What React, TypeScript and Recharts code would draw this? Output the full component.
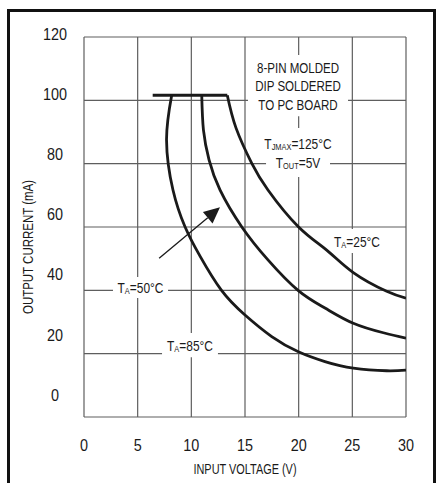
import React from "react";
import {
  LineChart,
  Line,
  XAxis,
  YAxis,
  CartesianGrid,
  ReferenceArea,
  ReferenceLine,
} from "recharts";

// ---------- data ----------
const X_TICKS = [0, 5, 10, 15, 20, 25, 30];
const Y_TICKS = [0, 20, 40, 60, 80, 100, 120];

// 100mA current-limit plateau
const limitV = [6.4, 13.35];
const limitI = [101.6, 101.6];

// T_A = 85°C
const ta85V = [8.17, 7.69, 8.29, 9.41, 10.81, 12.83, 15.0, 17.49, 19.97, 22.45, 25.09, 28.2, 30];
const ta85I = [101.6, 87.5, 71.7, 60.1, 50.8, 39.9, 32.2, 25.4, 20.6, 17.5, 15.4, 14.6, 14.8];

// T_A = 50°C
const ta50V = [10.97, 11.13, 11.65, 12.67, 14.69, 17.14, 19.97, 22.45, 25.09, 27.89, 30];
const ta50I = [101.6, 90.6, 81.2, 71.7, 60.1, 49.6, 39.9, 34.4, 29.6, 26.6, 24.9];

// T_A = 25°C
const ta25V = [13.35, 14.16, 15.62, 17.14, 19.97, 22.61, 25.09, 28.2, 30];
const ta25I = [101.6, 91.3, 80.2, 71.7, 60.1, 52.7, 45.6, 39.7, 37.5];

// annotation arrow (from the T_A=50°C label toward the curves)
const arrowV = [7.0, 12.67];
const arrowI = [50.1, 66.2];

const zip = (v: number[], i: number[]) => v.map((x, k) => ({ v: x, i: i[k] }));
const limitData = zip(limitV, limitI);
const ta85Data = zip(ta85V, ta85I);
const ta50Data = zip(ta50V, ta50I);
const ta25Data = zip(ta25V, ta25I);

// ---------- styles ----------
const SANS = "'Liberation Sans', Arial, sans-serif";
const INK = "#1a1a1a";
const GRID = "#5e5e5e";
const CONDENSE = 0.77;

const condenseAt = (cx: number, s: number = CONDENSE) => `translate(${cx} 0) scale(${s} 1) translate(${-cx} 0)`;

type Seg = { t: string; sub?: boolean };

const AnnText = (props: any) => {
  const { viewBox, lines, size = 15, lineHeight = 18.5 } = props;
  if (!viewBox) return null;
  const cx = viewBox.x + viewBox.width / 2;
  const cy = viewBox.y + viewBox.height / 2;
  const n = lines.length;
  return (
    <g transform={condenseAt(cx)}>
      {lines.map((segs: Seg[], k: number) => (
        <text
          key={k}
          x={cx}
          y={cy + (k - (n - 1) / 2) * lineHeight}
          textAnchor="middle"
          dominantBaseline="central"
          fontFamily={SANS}
          fontSize={size}
          fill={INK}
        >
          {segs.map((s, j) => {
            const prevSub = j > 0 && segs[j - 1].sub;
            if (s.sub) {
              return (
                <tspan key={j} fontSize={size * 0.62} dy={3.5}>
                  {s.t}
                </tspan>
              );
            }
            return (
              <tspan key={j} fontSize={size} dy={prevSub ? -3.5 : 0}>
                {s.t}
              </tspan>
            );
          })}
        </text>
      ))}
    </g>
  );
};

const Arrow = (props: any) => {
  const { x1, y1, x2, y2 } = props;
  const dx = x2 - x1;
  const dy = y2 - y1;
  const len = Math.hypot(dx, dy) || 1;
  const ux = dx / len;
  const uy = dy / len;
  const hl = 16;
  const hw = 7.5;
  const bx = x2 - ux * hl;
  const by = y2 - uy * hl;
  const pts = `${x2},${y2} ${bx - uy * hw},${by + ux * hw} ${bx + uy * hw},${by - ux * hw}`;
  return (
    <g>
      <line x1={x1} y1={y1} x2={bx} y2={by} stroke={INK} strokeWidth={1.3} />
      <polygon points={pts} fill={INK} />
    </g>
  );
};

const XTick = (props: any) => {
  const { x, y, payload } = props;
  return (
    <text
      x={x}
      y={y}
      transform={condenseAt(x, 0.9)}
      textAnchor="middle"
      dominantBaseline="central"
      fontFamily={SANS}
      fontSize={16}
      fill={INK}
    >
      {payload.value}
    </text>
  );
};

// the printed y labels sit slightly above their grid lines, more so toward the bottom
const Y_LABEL_SHIFT_BOTTOM = -22;
const Y_LABEL_SHIFT_TOP = -3;
const YTick = (props: any) => {
  const { x, y, payload } = props;
  const f = payload.value / 120;
  const shift = Y_LABEL_SHIFT_BOTTOM * (1 - f) + Y_LABEL_SHIFT_TOP * f;
  return (
    <text
      x={x}
      y={y + shift}
      transform={condenseAt(x, 0.9)}
      textAnchor="middle"
      dominantBaseline="central"
      fontFamily={SANS}
      fontSize={16}
      fill={INK}
    >
      {payload.value}
    </text>
  );
};

const XTitle = (props: any) => {
  const { viewBox } = props;
  if (!viewBox) return null;
  const cx = viewBox.x + viewBox.width / 2;
  return (
    <text
      x={cx}
      y={viewBox.y + 53}
      transform={condenseAt(cx, 0.78)}
      textAnchor="middle"
      dominantBaseline="central"
      fontFamily={SANS}
      fontSize={14}
      fill={INK}
    >
      INPUT VOLTAGE (V)
    </text>
  );
};

const YTitle = (props: any) => {
  const { viewBox } = props;
  if (!viewBox) return null;
  const x = viewBox.x + 28;
  const y = viewBox.y + viewBox.height / 2 + 20;
  return (
    <text
      x={x}
      y={y}
      transform={`rotate(-90 ${x} ${y}) translate(${x} ${y}) scale(0.82 1) translate(${-x} ${-y})`}
      textAnchor="middle"
      dominantBaseline="central"
      fontFamily={SANS}
      fontSize={14}
      fill={INK}
    >
      OUTPUT CURRENT (mA)
    </text>
  );
};

const boxProps = { fill: "#ffffff", fillOpacity: 1, stroke: "none", ifOverflow: "visible" as const };

export default function App() {
  return (
    <div style={{ position: "absolute", left: 0, top: 0, width: 440, height: 483, overflow: "hidden", background: "#fff" }}>
      <LineChart
        width={440}
        height={483}
        margin={{ top: 37, right: 34, bottom: 0, left: 0 }}
        style={{ position: "absolute", left: 0, top: 0 }}
      >
        <CartesianGrid stroke={GRID} strokeWidth={1.2} />
        <XAxis
          type="number"
          dataKey="v"
          domain={[0, 30]}
          ticks={X_TICKS}
          allowDataOverflow
          axisLine={false}
          tickLine={false}
          tickSize={0}
          tickMargin={28}
          height={66}
          tick={<XTick />}
          label={<XTitle />}
        />
        <YAxis
          type="number"
          domain={[0, 120]}
          ticks={Y_TICKS}
          allowDataOverflow
          axisLine={false}
          tickLine={false}
          tickSize={0}
          tickMargin={29}
          width={84}
          tick={<YTick />}
          label={<YTitle />}
        />

        <ReferenceArea
          {...boxProps}
          x1={15.28}
          x2={24.6}
          y1={95.0}
          y2={114.3}
          label={
            <AnnText
              lines={[[{ t: "8-PIN MOLDED" }], [{ t: "DIP SOLDERED" }], [{ t: "TO PC BOARD" }]]}
            />
          }
        />
        <ReferenceArea
          {...boxProps}
          x1={16.96}
          x2={22.92}
          y1={75.8}
          y2={91.3}
          label={
            <AnnText
              lineHeight={19}
              size={15.5}
              lines={[
                [{ t: "T" }, { t: "JMAX", sub: true }, { t: "=125°C" }],
                [{ t: "T" }, { t: "OUT", sub: true }, { t: "=5V" }],
              ]}
            />
          }
        />
        <ReferenceArea
          {...boxProps}
          x1={23.2}
          x2={27.67}
          y1={51.8}
          y2={59.4}
          label={<AnnText size={15.5} lines={[[{ t: "T" }, { t: "A", sub: true }, { t: "=25°C" }]]} />}
        />
        <ReferenceArea
          {...boxProps}
          x1={2.7}
          x2={7.83}
          y1={37.6}
          y2={44.2}
          label={<AnnText size={15.5} lines={[[{ t: "T" }, { t: "A", sub: true }, { t: "=50°C" }]]} />}
        />
        <ReferenceArea
          {...boxProps}
          x1={7.27}
          x2={12.48}
          y1={18.9}
          y2={26.5}
          label={<AnnText size={15.5} lines={[[{ t: "T" }, { t: "A", sub: true }, { t: "=85°C" }]]} />}
        />

        <ReferenceLine
          segment={[
            { x: arrowV[0], y: arrowI[0] },
            { x: arrowV[1], y: arrowI[1] },
          ]}
          ifOverflow="visible"
          shape={Arrow}
        />

        <Line data={limitData} dataKey="i" type="linear" stroke={INK} strokeWidth={2.8} dot={false} isAnimationActive={false} />
        <Line data={ta85Data} dataKey="i" type="natural" stroke={INK} strokeWidth={2.8} dot={false} isAnimationActive={false} />
        <Line data={ta50Data} dataKey="i" type="natural" stroke={INK} strokeWidth={2.8} dot={false} isAnimationActive={false} />
        <Line data={ta25Data} dataKey="i" type="natural" stroke={INK} strokeWidth={2.8} dot={false} isAnimationActive={false} />
      </LineChart>
      <div
        style={{
          position: "absolute",
          left: 7,
          top: 9,
          width: 429,
          height: 520,
          border: "3px solid #111",
          boxSizing: "border-box",
          pointerEvents: "none",
        }}
      />
    </div>
  );
}
